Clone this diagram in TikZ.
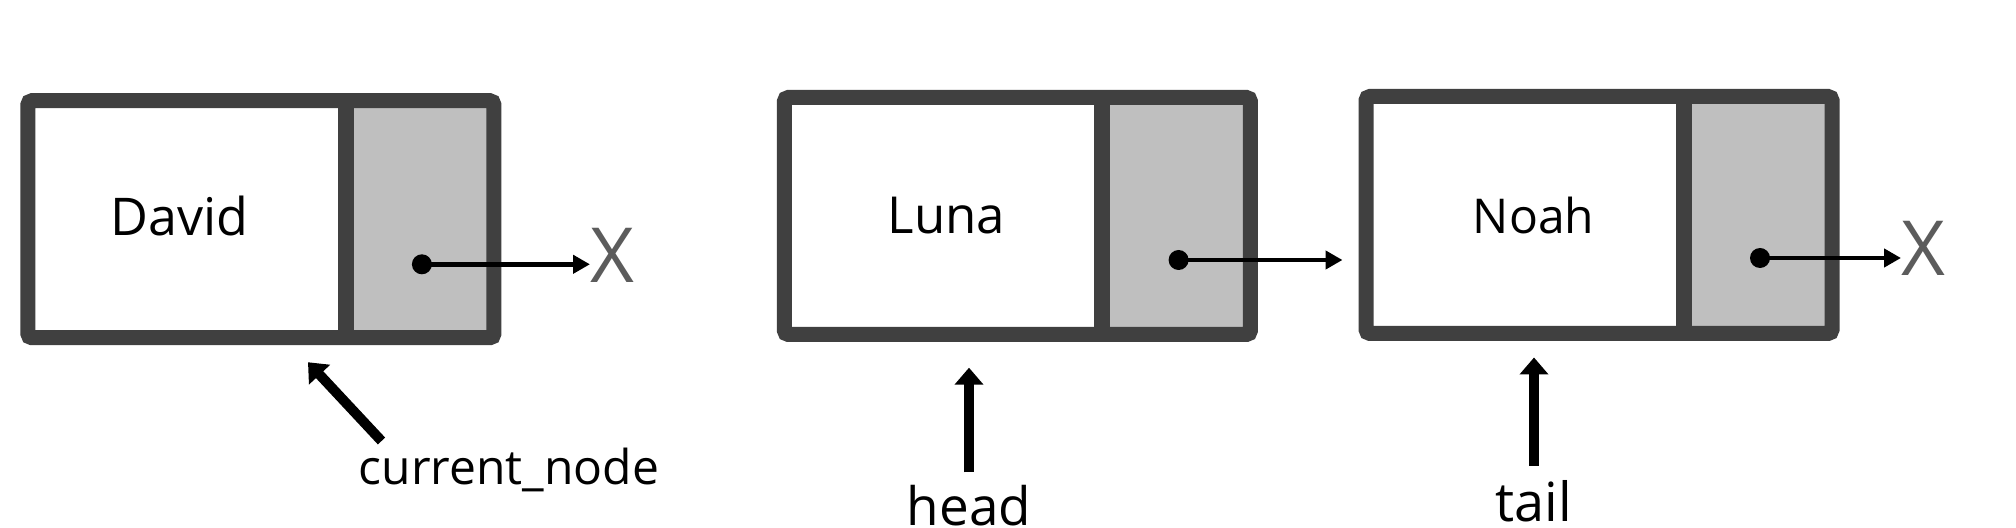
\documentclass[tikz,border=0pt]{standalone}
\usepackage{fontspec}
\setmainfont{Open Sans}
\usetikzlibrary{arrows.meta,calc}
\definecolor{boxgray}{HTML}{404040}
\definecolor{ptrfill}{HTML}{BFBFBF}
\definecolor{xgray}{HTML}{5C5C5C}
\begin{document}
\begin{tikzpicture}[x=0.5pt,y=-0.5pt,
  listbox/.style={draw=boxgray, line width=7.5pt, fill=white, rounded corners=2pt,
    minimum width=233pt, minimum height=118.5pt, inner sep=0pt, outer sep=0pt,
    path picture={\fill[ptrfill] ([xshift=-74pt]path picture bounding box.north east) rectangle (path picture bounding box.south east);}},
  divider/.style={draw=boxgray, line width=8pt},
  dot/.style={circle, fill=black, inner sep=0pt, minimum size=10pt},
  ptr/.style={line width=2.3pt, -{Triangle[length=8.5pt,width=9pt]}},
  bigptr/.style={line width=5pt, -{Triangle[length=8.5pt,width=14pt]}},
  lbl/.style={inner sep=0pt, anchor=base},
  nil/.style={inner sep=0pt, anchor=base west, text=xgray, font=\fontsize{38}{40}\selectfont}
]
\useasboundingbox[fill=white] (0,0) rectangle (2016,528);

% list boxes
\node[listbox] (david) at (260.9,219.25) {};
\node[listbox] (luna) at (1017.4,216) {};
\node[listbox] (noah) at (1599,215) {};

\draw[divider] ([xshift=-74pt]david.north east) -- ([xshift=-74pt]david.south east);
\draw[divider] ([xshift=-74pt]luna.north east) -- ([xshift=-74pt]luna.south east);
\draw[divider] ([xshift=-74pt]noah.north east) -- ([xshift=-74pt]noah.south east);

% data texts
\node[lbl, font=\fontsize{26}{30}\selectfont] (tdavid) at (179.7,235.7) {David};
\node[lbl, font=\fontsize{25.5}{30}\selectfont] (tluna) at (946.6,234) {Luna};
\node[lbl, font=\fontsize{24}{28}\selectfont] (tnoah) at (1533.6,234) {Noah};

% pointer dots
\node[dot] (dd) at (421.9,264.3) {};
\node[dot] (ld) at (1178.6,260) {};
\node[dot] (nd) at (1760,258) {};

% null markers
\node[nil] (xd) at (590,283) {X};
\node[nil] (xn) at (1901,276) {X};

\draw[ptr] (dd.center) -- (dd -| xd.west);
\draw[ptr, shorten >=11.75pt] (ld.center) -- (ld -| noah.west);
\draw[ptr] (nd.center) -- (nd -| xn.west);

% labels
\node[lbl, font=\fontsize{24}{28}\selectfont] (cur) at (509,485) {current\_node};
\node[lbl, font=\fontsize{26.5}{30}\selectfont] (head) at (969,525) {head};
\node[lbl, font=\fontsize{27}{30}\selectfont] (tail) at (1534,521) {tail};

\draw[bigptr] ([shift={(11.5pt,22pt)}]cur.base west) -- ([shift={(23.55pt,-12.25pt)}]david.south);
\draw[bigptr, shorten <=6pt, shorten >=16.6pt] (head.north) -- (head.north |- luna.south);
\draw[bigptr, shorten <=7pt, shorten >=12pt] (tail.north) -- (tail.north |- noah.south);
\end{tikzpicture}
\end{document}
